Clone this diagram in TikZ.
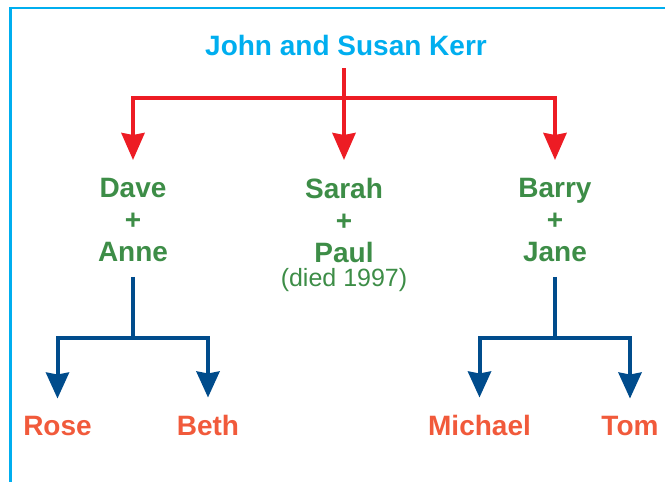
\documentclass[tikz,border=0pt]{standalone}
\usepackage{fontspec}
\setmainfont{Liberation Sans}
\usetikzlibrary{arrows.meta,positioning,calc}
\definecolor{framecyan}{HTML}{00AEEF}
\definecolor{kerrred}{HTML}{ED1C24}
\definecolor{kerrgreen}{HTML}{3D8D47}
\definecolor{kerrblue}{HTML}{004C8C}
\definecolor{kidorange}{HTML}{F15A3B}
\tikzset{parents/.style={inner sep=0pt,anchor=base,text=framecyan,font=\fontsize{28}{32}\selectfont\bfseries},couple/.style={inner sep=0pt,anchor=north,align=center,text=kerrgreen,font=\fontsize{28}{32}\selectfont\bfseries},kid/.style={inner sep=0pt,anchor=base,text=kidorange,font=\fontsize{28}{32}\selectfont\bfseries},redline/.style={draw=kerrred,line width=4pt},blueline/.style={draw=kerrblue,line width=4pt},redarrow/.style={redline,-{Stealth[length=27pt,width=23pt,inset=2pt]}},bluearrow/.style={blueline,-{Stealth[length=26pt,width=23pt,inset=2pt]}}}

\begin{document}
\begin{tikzpicture}[x=1pt,y=-1pt]
\useasboundingbox(0,0)rectangle(665,482);
\draw[framecyan,line width=2.5pt](10.3,482)|-(665,8);
\node[parents](title)at(346,55){John and Susan Kerr};
\node[couple](dave)at(133,178){Dave\\+\\Anne};
\node[couple](sarah)at(344,178){Sarah\\+\\Paul};
\node[couple](barry)at(555,178){Barry\\+\\Jane};
\node[inner sep=0pt,anchor=base,text=kerrgreen,font=\fontsize{25}{28}\selectfont](died)at(344,286){(died 1997)};
\node[kid](rose)at(57.5,435){Rose};
\node[kid](beth)at(208,435){Beth};
\node[kid](michael)at(479.5,435){Michael};
\node[kid](tom)at(630,435){Tom};
\coordinate(fork)at(344,98);\coordinate(daveFork)at(133,338);\coordinate(barryFork)at(555,338);
\draw[redline,shorten <=13pt](title.south-|fork)--(fork);
\draw[redarrow,shorten >=18pt](fork)--(sarah.north);
\draw[redarrow,shorten >=18pt](fork)-|(dave.north);\draw[redarrow,shorten >=18pt](fork)-|(barry.north);
\draw[blueline,shorten <=15pt](dave.south)--(daveFork);\draw[blueline,shorten <=15pt](barry.south)--(barryFork);
\draw[bluearrow,shorten >=17pt](daveFork)-|(rose.north);\draw[bluearrow,shorten >=17pt](daveFork)-|(beth.north);
\draw[bluearrow,shorten >=17pt](barryFork)-|(michael.north);\draw[bluearrow,shorten >=17pt](barryFork)-|(tom.north);
\end{tikzpicture}
\end{document}
